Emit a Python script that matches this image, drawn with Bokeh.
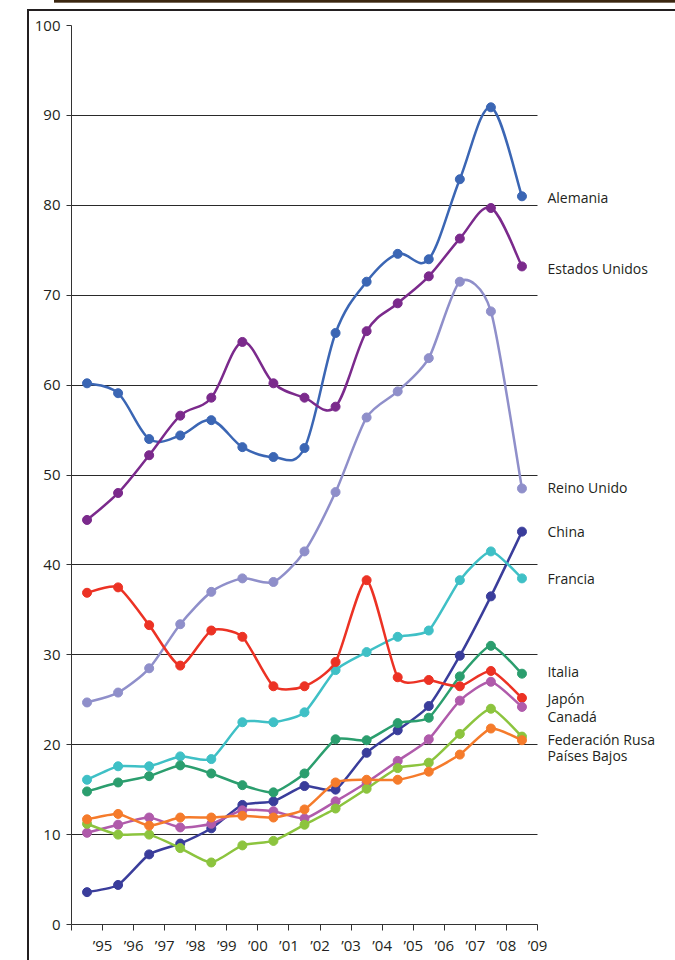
from bokeh.plotting import figure
from bokeh.models import FixedTicker, Range1d
from bokeh.core.properties import value
from bokeh.embed import file_html
from bokeh.resources import INLINE

years = [1995, 1996, 1997, 1998, 1999, 2000, 2001, 2002, 2003, 2004, 2005, 2006, 2007, 2008, 2009]
tick_years = [1994, 1995, 1996, 1997, 1998, 1999, 2000, 2001, 2002, 2003, 2004, 2005, 2006, 2007, 2008, 2009]
tick_labels = ["", "\u201995", "\u201996", "\u201997", "\u201998", "\u201999", "\u201900", "\u201901",
               "\u201902", "\u201903", "\u201904", "\u201905", "\u201906", "\u201907", "\u201908", "\u201909"]

alemania = [60.2, 59.1, 54.0, 54.4, 56.1, 53.1, 52.0, 53.0, 65.8, 71.5, 74.6, 74.0, 82.9, 90.9, 81.0]
estados_unidos = [45.0, 48.0, 52.2, 56.6, 58.6, 64.8, 60.2, 58.6, 57.6, 66.0, 69.1, 72.1, 76.3, 79.7, 73.2]
reino_unido = [24.7, 25.8, 28.5, 33.4, 37.0, 38.5, 38.1, 41.5, 48.1, 56.4, 59.3, 63.0, 71.5, 68.2, 48.5]
china = [3.6, 4.4, 7.8, 9.0, 10.7, 13.3, 13.7, 15.4, 15.0, 19.1, 21.6, 24.3, 29.9, 36.5, 43.7]
francia = [16.1, 17.6, 17.6, 18.7, 18.4, 22.5, 22.5, 23.6, 28.3, 30.3, 32.0, 32.7, 38.3, 41.5, 38.5]
italia = [14.8, 15.8, 16.5, 17.7, 16.8, 15.5, 14.7, 16.8, 20.6, 20.5, 22.4, 23.0, 27.6, 31.0, 27.9]
japon = [36.9, 37.5, 33.3, 28.8, 32.7, 32.0, 26.5, 26.5, 29.2, 38.3, 27.5, 27.2, 26.5, 28.2, 25.2]
canada = [10.2, 11.1, 11.9, 10.8, 11.2, 12.7, 12.6, 11.8, 13.7, 15.8, 18.2, 20.6, 24.9, 27.0, 24.2]
fed_rusa = [11.2, 10.0, 10.0, 8.5, 6.9, 8.8, 9.3, 11.1, 12.9, 15.1, 17.4, 18.0, 21.2, 24.0, 20.9]
paises_bajos = [11.7, 12.3, 11.0, 11.9, 11.9, 12.1, 11.9, 12.8, 15.8, 16.1, 16.1, 17.0, 18.9, 21.8, 20.5]

names = ["Alemania", "Estados Unidos", "Reino Unido", "China", "Francia", "Italia",
         "Japón", "Canadá", "Federación Rusa", "Países Bajos"]
series = [alemania, estados_unidos, reino_unido, china, francia, italia,
          japon, canada, fed_rusa, paises_bajos]
colors = ["#3b66b4", "#7b2a8c", "#8f8fca", "#3a3d9b", "#3fc0c6", "#2b9e6e",
          "#ec3224", "#b05bab", "#8cc43e", "#f57b2b"]
label_y = [80.9, 73.0, 48.6, 43.75, 38.5, 28.1, 25.1, 23.1, 20.55, 18.8]
smooth = [1 / 6, 1 / 6, 1 / 8, 1 / 10, 1 / 10, 1 / 10, 1 / 9, 1 / 10, 1 / 10, 1 / 10]

FONT = "Open Sans"
TXT = "#231f20"

frame_style = {
    "background-color": "white",
    "background-image": ("linear-gradient(#231f20,#231f20), linear-gradient(#231f20,#231f20), "
                         "linear-gradient(#3b2610,#3b2610)"),
    "background-size": "2.2px 960px, 650px 2px, 625px 2.7px",
    "background-position": "26.5px 9.3px, 26.5px 9.3px, 54px 0px",
    "background-repeat": "no-repeat",
}

p = figure(width=675, height=960, output_backend="svg", toolbar_location=None,
           x_range=Range1d(1994, 2013.442), y_range=Range1d(0, 100),
           min_border_left=71, min_border_right=0, min_border_top=25, min_border_bottom=36,
           styles=frame_style)
p.outline_line_color = None
p.background_fill_color = "white"
p.background_fill_alpha = 0
p.border_fill_alpha = 0

p.xgrid.visible = False
p.ygrid.ticker = FixedTicker(ticks=[10, 20, 30, 40, 50, 60, 70, 80, 90, 100])
p.ygrid.grid_line_color = "#2a2a2a"
p.ygrid.grid_line_width = 1
p.ygrid.cross_bounds = (1994, 2009)

p.yaxis.ticker = FixedTicker(ticks=[0, 10, 20, 30, 40, 50, 60, 70, 80, 90, 100])
p.xaxis.ticker = FixedTicker(ticks=tick_years)
p.xaxis.major_label_overrides = {t: l for t, l in zip(tick_years, tick_labels)}
p.xaxis.bounds = (1994, 2009)
for ax in (p.xaxis, p.yaxis):
    ax.axis_line_color = "#333333"
    ax.axis_line_width = 1
    ax.major_tick_line_color = "#333333"
    ax.major_tick_in = 0
    ax.minor_tick_line_color = None
    ax.major_label_text_font = FONT
    ax.major_label_text_font_size = "15px"
    ax.major_label_text_color = TXT
p.yaxis.major_tick_out = 5
p.yaxis.major_label_standoff = 6
p.xaxis.major_tick_out = 6
p.xaxis.major_label_standoff = 4


def catmull_bezier(xs, ys, k):
    n = len(xs)
    out = {c: [] for c in ("x0", "y0", "x1", "y1", "cx0", "cy0", "cx1", "cy1")}
    for i in range(n - 1):
        i0 = max(i - 1, 0)
        i3 = min(i + 2, n - 1)
        out["x0"].append(xs[i]); out["y0"].append(ys[i])
        out["x1"].append(xs[i + 1]); out["y1"].append(ys[i + 1])
        out["cx0"].append(xs[i] + (xs[i + 1] - xs[i0]) * k)
        out["cy0"].append(ys[i] + (ys[i + 1] - ys[i0]) * k)
        out["cx1"].append(xs[i + 1] - (xs[i3] - xs[i]) * k)
        out["cy1"].append(ys[i + 1] - (ys[i3] - ys[i]) * k)
    return out


xs = [y - 0.5 for y in years]
for name, vals, col, k in zip(names, series, colors, smooth):
    b = catmull_bezier(xs, vals, k)
    p.bezier(x0=b["x0"], y0=b["y0"], x1=b["x1"], y1=b["y1"],
             cx0=b["cx0"], cy0=b["cy0"], cx1=b["cx1"], cy1=b["cy1"],
             line_color=col, line_width=2.5)
    p.scatter(xs, vals, size=9, color=col, line_color=col)

p.text(x=[2009.32] * len(names), y=label_y, text=names, text_font=value(FONT),
       text_font_size="14px", text_color=TXT, text_baseline="middle", text_align="left")

open("out.html", "w").write(file_html(p, INLINE))
